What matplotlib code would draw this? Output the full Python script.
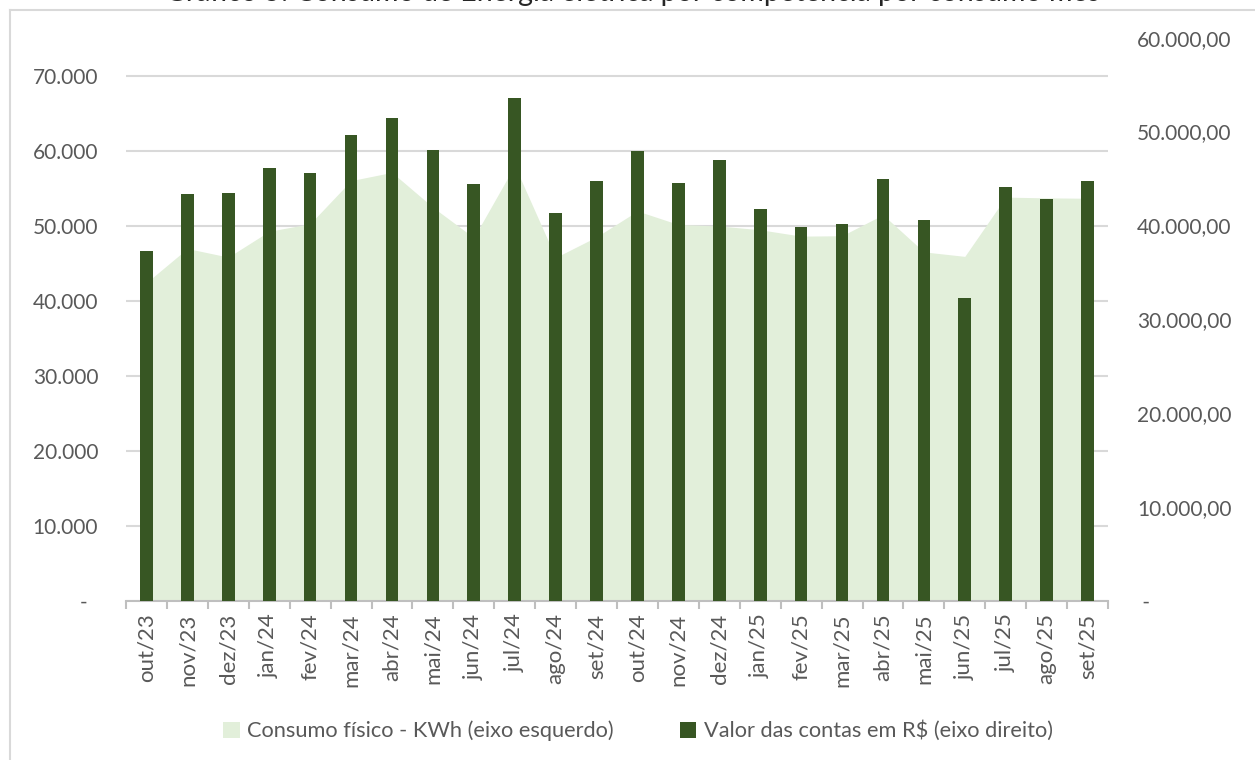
import matplotlib
matplotlib.use("Agg")
from matplotlib import pyplot as plt
from matplotlib.patches import Patch
from matplotlib.lines import Line2D
from matplotlib.ticker import FuncFormatter

# data
meses = ["out/23", "nov/23", "dez/23", "jan/24", "fev/24", "mar/24", "abr/24", "mai/24",
         "jun/24", "jul/24", "ago/24", "set/24", "out/24", "nov/24", "dez/24", "jan/25",
         "fev/25", "mar/25", "abr/25", "mai/25", "jun/25", "jul/25", "ago/25", "set/25"]
consumo_kwh = [42450, 47000, 45850, 49300, 50300, 56050, 57150, 52500,
               48450, 58050, 45800, 48550, 52000, 50200, 50000, 49500,
               48650, 48700, 51500, 46550, 45950, 53850, 53750, 53700]
valor_rs = [37320, 43350, 43500, 46150, 45580, 49600, 51400, 48000,
            44450, 53570, 41370, 44730, 47890, 44560, 47010, 41790,
            39830, 40190, 44990, 40580, 32270, 44130, 42860, 44700]

titulo = "Gráfico 5: Consumo de Energia elétrica por competência por consumo mês"
leg_area = "Consumo físico - KWh (eixo esquerdo)"
leg_bar = "Valor das contas em R$ (eixo direito)"

verde_claro = "#e2efda"
verde_escuro = "#375623"
cinza_txt = "#595959"
cinza_linha = "#d9d9d9"

plt.rcParams["font.family"] = ["Lato", "DejaVu Sans"]

W, H = 1255, 760
fig = plt.figure(figsize=(W / 100, H / 100), dpi=100)

# chart frame (left and top edges only show in the crop)
fig.add_artist(Line2D([9.5 / W, 9.5 / W], [0, 1 - 9.5 / H], color=cinza_linha, lw=1.5))
fig.add_artist(Line2D([9.5 / W, 1], [1 - 9.5 / H, 1 - 9.5 / H], color=cinza_linha, lw=1.5))

# title, cut off at the top like the reference
fig.text(632 / W, 1 - 1 / H, titulo, ha="center", va="baseline", fontsize=20.5, color="#262626")

ax = fig.add_axes([126 / W, (H - 601) / H, 982 / W, 600 / H])
x = list(range(len(meses)))

ax.fill_between(x, consumo_kwh, color=verde_claro, lw=0, zorder=2)
ax.set_xlim(-0.5, len(meses) - 0.5)
ax.set_ylim(0, 80000)
ax.set_yticks(range(0, 80000, 10000))
ax.yaxis.set_major_formatter(FuncFormatter(
    lambda v, p: "-  " if v == 0 else f"{int(v):,}".replace(",", ".")))
ax.grid(axis="y", color=cinza_linha, lw=1.5)
ax.set_axisbelow(True)

ax2 = ax.twinx()
ax2.bar(x, valor_rs, width=0.31, color=verde_escuro, zorder=3)
ax2.set_ylim(0, 63900)
ax2.set_yticks(range(0, 70000, 10000))
ax2.yaxis.set_major_formatter(FuncFormatter(
    lambda v, p: " -" if v == 0 else f"{int(v):,}".replace(",", ".") + ",00"))

for a in (ax, ax2):
    for s in ("top", "right", "left", "bottom"):
        a.spines[s].set_visible(False)
    a.tick_params(axis="y", length=0, labelsize=15, labelcolor=cinza_txt)
ax.tick_params(axis="y", pad=20)
ax2.tick_params(axis="y", pad=21)

ax.spines["bottom"].set_visible(True)
ax.spines["bottom"].set_color("#bfbfbf")
ax.spines["bottom"].set_linewidth(1.5)
ax.spines["bottom"].set_zorder(5)

ax.set_xticks(x)
ax.set_xticklabels(meses, rotation=90, fontsize=16, color=cinza_txt)
ax.set_xticks([i - 0.5 for i in range(len(meses) + 1)], minor=True)
ax.tick_params(axis="x", which="major", length=0, pad=9)
ax.tick_params(axis="x", which="minor", length=6, width=1.5, color="#bfbfbf")

handles = [Patch(facecolor=verde_claro, edgecolor="none", label=leg_area),
           Patch(facecolor=verde_escuro, edgecolor="none", label=leg_bar)]
fig.legend(handles=handles, loc="center", bbox_to_anchor=(638 / W, 1 - 731 / H), ncol=2,
           frameon=False, fontsize=15.7, labelcolor=cinza_txt, handlelength=0.75,
           handleheight=0.75, handletextpad=0.35, columnspacing=3.0)

fig.savefig("out.png", dpi=100)
